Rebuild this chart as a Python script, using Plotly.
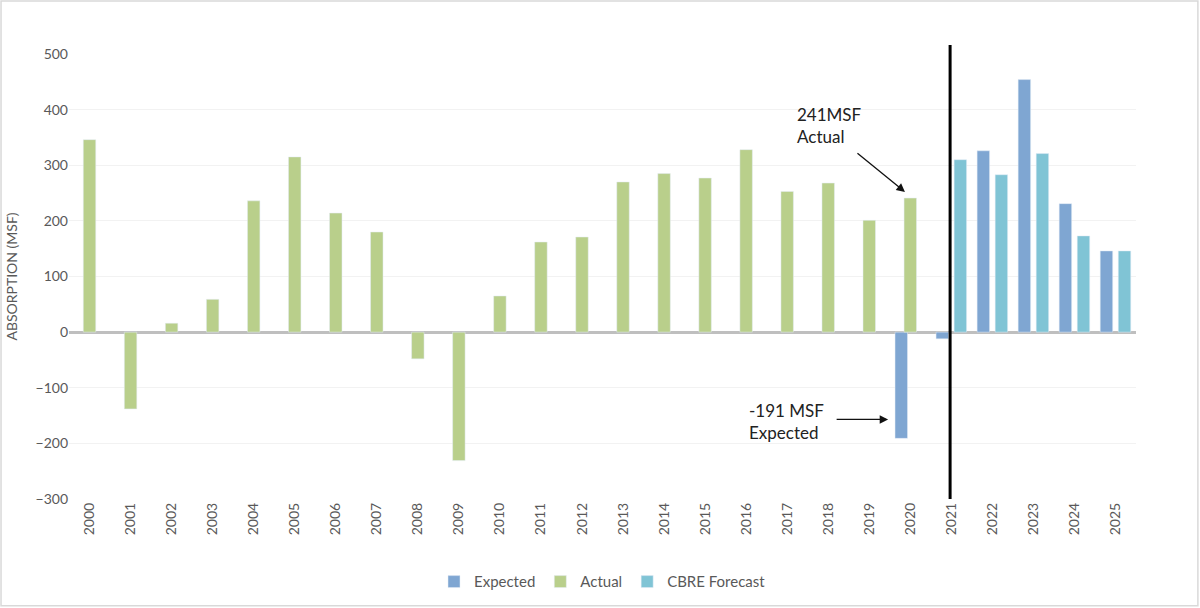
import plotly.graph_objects as go

years = [str(y) for y in range(2000, 2026)]

actual = [346, -138, 16, 59, 236, 315, 214, 180, -48, -231,
          65, 162, 171, 270, 285, 277, 328, 253, 268, 201,
          241, None, None, None, None, None]

expected = [None] * 20 + [-191, -12, 326, 454, 231, 146]

forecast = [None] * 21 + [310, 283, 321, 173, 146]

c_expected = "#7FA6D2"
c_actual = "#B9CF8B"
c_forecast = "#80C4D5"
grey = "#595959"
font = "Lato"

fig = go.Figure()

w = 0.304
fig.add_trace(go.Bar(x=years, y=expected, name="Expected", marker_color=c_expected,
                     width=w, offset=-w / 2 - 0.22))
fig.add_trace(go.Bar(x=years, y=actual, name="Actual", marker_color=c_actual,
                     width=w, offset=-w / 2))
fig.add_trace(go.Bar(x=years, y=forecast, name="CBRE Forecast", marker_color=c_forecast,
                     width=w, offset=-w / 2 + 0.22))

# black divider between actual and forecast
fig.add_shape(type="line", xref="x", yref="paper", x0=20.97, x1=20.97, y0=0, y1=1.02,
              line=dict(color="black", width=3))

# outer frame
fig.add_shape(type="rect", xref="paper", yref="paper", x0=-0.0637, x1=1.058, y0=-0.240, y1=1.119,
              line=dict(color="#D9D9D9", width=1.5), layer="below")

# callouts
fig.add_annotation(x=17.19, y=371, xref="x", yref="y", text="241MSF<br>Actual",
                   showarrow=False, xanchor="left", yanchor="middle", align="left",
                   font=dict(family=font, size=17, color="#222"))
fig.add_annotation(x=19.87, y=252, xref="x", yref="y", text="", showarrow=True,
                   ax=-49, ay=-40, arrowhead=2, arrowsize=1.3, arrowwidth=1.3, arrowcolor="#111")
fig.add_annotation(x=16.02, y=-161, xref="x", yref="y", text="-191 MSF<br>Expected",
                   showarrow=False, xanchor="left", yanchor="middle", align="left",
                   font=dict(family=font, size=17, color="#222"))
fig.add_annotation(x=19.46, y=-157, xref="x", yref="y", text="", showarrow=True,
                   ax=-53, ay=0, arrowhead=2, arrowsize=1.3, arrowwidth=1.3, arrowcolor="#111")

fig.update_layout(
    barmode="overlay",
    width=1200, height=608,
    paper_bgcolor="white", plot_bgcolor="white",
    margin=dict(l=69, r=64, t=54, b=109),
    font=dict(family=font, size=14, color=grey),
    legend=dict(orientation="h", x=0.5, xanchor="center", yref="container", y=0.043,
                yanchor="middle", font=dict(size=15, color=grey), traceorder="normal",
                itemwidth=30),
    xaxis=dict(type="category", range=[-0.5, 25.5], tickangle=-90, showgrid=False,
               showline=False, ticks="", tickfont=dict(size=14, color=grey)),
    yaxis=dict(range=[-300, 500], dtick=100, showgrid=True, gridcolor="#F2F2F2",
               zeroline=True, zerolinecolor="#BFBFBF", zerolinewidth=2.5,
               tickfont=dict(size=14, color=grey),
               title=dict(text="ABSORPTION (MSF)", font=dict(size=14, color=grey), standoff=14)),
)

fig.write_html("out.html", config={"displayModeBar": False},
               post_script="document.body.style.margin='0';")
